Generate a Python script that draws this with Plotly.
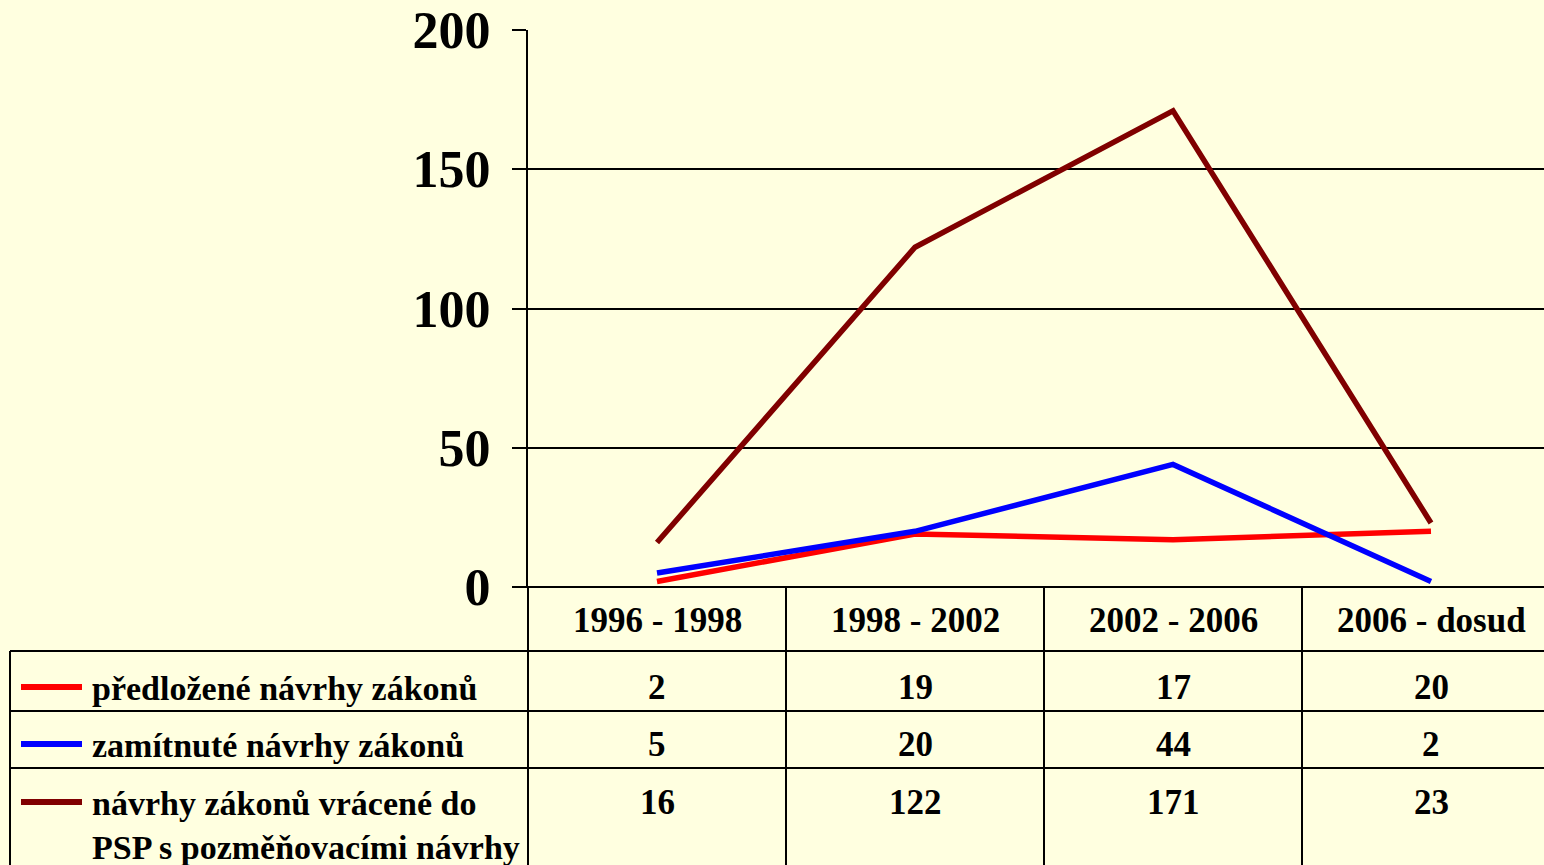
import plotly.graph_objects as go

categories = ["1996 - 1998", "1998 - 2002", "2002 - 2006", "2006 - dosud"]
series_names = ["předložené návrhy zákonů", "zamítnuté návrhy zákonů",
                "návrhy zákonů vrácené do|PSP s pozměňovacími návrhy"]
predlozene = [2, 19, 17, 20]
zamitnute = [5, 20, 44, 2]
vracene = [16, 122, 171, 23]
series_values = [predlozene, zamitnute, vracene]
series_colors = ["#FF0000", "#0000FF", "#800000"]
y_ticks = [0, 50, 100, 150, 200]

W, H = 1544, 865
BG = "#FFFFE0"
FONT = "Liberation Serif"

def py(p):  # pixel y -> paper y
    return 1 - p / H

def px(p):
    return p / W

fig = go.Figure()
xs = list(range(len(categories)))
for name, vals, col in zip(series_names, series_values, series_colors):
    fig.add_trace(go.Scatter(x=xs, y=vals, mode="lines", name=name.replace("|", " "),
                             line=dict(color=col, width=5.5), showlegend=False))

plot_left, plot_right = 528, 1544
cat_w = 258
x_range = [-0.5, -0.5 + (plot_right - plot_left) / cat_w]

shapes = []
line = dict(color="black", width=2)
shapes.append(dict(type="line", xref="paper", yref="paper", x0=px(514), x1=1, y0=py(587), y1=py(587), line=line))
for yy in [651, 711, 768]:
    shapes.append(dict(type="line", xref="paper", yref="paper", x0=px(10), x1=1, y0=py(yy), y1=py(yy), line=line))
shapes.append(dict(type="line", xref="paper", yref="paper", x0=px(10), x1=px(10), y0=py(651), y1=0, line=line))
for i in range(len(categories)):
    xx = plot_left + cat_w * i
    if xx <= W:
        shapes.append(dict(type="line", xref="paper", yref="paper", x0=px(xx), x1=px(xx), y0=py(587), y1=0, line=line))
row_centers = [687, 744, 802]
for yc, col in zip(row_centers, series_colors):
    shapes.append(dict(type="line", xref="paper", yref="paper", x0=px(21), x1=px(82), y0=py(yc), y1=py(yc),
                       line=dict(color=col, width=6)))

ann = []
for i, c in enumerate(categories):
    ann.append(dict(x=i, y=py(620), xref="x", yref="paper", text=f"<b>{c}</b>", showarrow=False,
                    font=dict(family=FONT, size=35, color="black"), xanchor="center", yanchor="middle"))
for r, (name, vals) in enumerate(zip(series_names, series_values)):
    lines = name.split("|")
    for k, ln in enumerate(lines):
        ann.append(dict(x=px(90), y=py(row_centers[r] + 1 + 44 * k), xref="paper", yref="paper",
                        text=f"<b>{ln}</b>", showarrow=False,
                        font=dict(family=FONT, size=34, color="black"), xanchor="left", yanchor="middle"))
    for i, v in enumerate(vals):
        ann.append(dict(x=i, y=py(row_centers[r]), xref="x", yref="paper", text=f"<b>{v}</b>", showarrow=False,
                        font=dict(family=FONT, size=35, color="black"), xanchor="center", yanchor="middle"))

fig.update_layout(
    template="none",
    width=W, height=H, margin=dict(l=0, r=0, t=0, b=0, pad=0),
    paper_bgcolor=BG, plot_bgcolor=BG,
    shapes=shapes, annotations=ann,
    xaxis=dict(domain=[px(plot_left), 1], range=x_range, showgrid=False, zeroline=False,
               showticklabels=False, ticks="", showline=False, fixedrange=True, automargin=False),
    yaxis=dict(domain=[py(587), py(30)], range=[0, 200], tickvals=y_ticks,
               showgrid=True, gridcolor="black", gridwidth=1.5,
               zeroline=False, showline=True, linecolor="black", linewidth=2,
               ticks="outside", ticklen=14, tickcolor="black", tickwidth=2,
               ticklabelstandoff=11, automargin=False,
               tickfont=dict(family=FONT, size=52, color="black", weight="bold"), fixedrange=True),
)

fig.write_html("out.html", config={"responsive": False, "displayModeBar": False},
               post_script="document.body.style.margin='0';document.body.style.overflow='hidden';")
